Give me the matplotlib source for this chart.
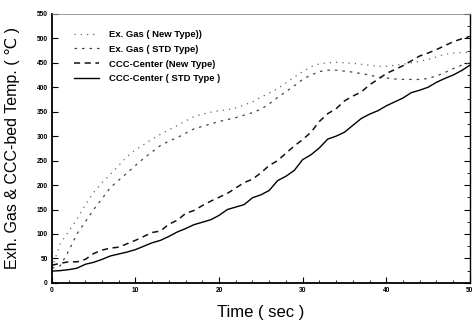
import matplotlib
matplotlib.use("Agg")
import matplotlib.pyplot as plt
from matplotlib.ticker import MultipleLocator

plt.rcParams['font.family'] = ['Liberation Sans', 'DejaVu Sans']

# Time axis (sec)
time = list(range(0, 51))

# Exhaust gas, new type (dotted)
ex_gas_new = [30, 80, 105, 130, 160, 185, 205, 222, 240, 258,
              272, 283, 294, 304, 313, 322, 331, 340, 345, 349,
              352, 354, 358, 364, 370, 380, 388, 397, 409, 421,
              432, 442, 448, 450, 451, 450, 449, 447, 445, 443,
              443, 445, 447, 450, 453, 457, 462, 467, 470, 471, 472]

# Exhaust gas, STD type (short dashes)
ex_gas_std = [30, 35, 65, 100, 125, 150, 172, 195, 210, 225,
              240, 255, 268, 281, 290, 297, 306, 315, 320, 325,
              330, 334, 338, 343, 348, 355, 366, 379, 391, 403,
              416, 425, 432, 435, 435, 433, 431, 428, 425, 421,
              419, 417, 416, 416, 416, 418, 423, 430, 438, 445, 450]

# CCC-bed center, new type (dashed)
ccc_new = [36, 40, 43, 43, 48, 60, 67, 71, 73, 80,
           87, 95, 103, 106, 120, 128, 142, 148, 158, 167,
           175, 183, 194, 205, 212, 225, 240, 250, 265, 280,
           293, 308, 330, 346, 356, 372, 382, 390, 405, 416,
           428, 436, 444, 454, 464, 470, 477, 485, 493, 499, 504]

# CCC-bed center, STD type (solid)
ccc_std = [24, 25, 27, 30, 38, 42, 48, 55, 59, 63,
           68, 75, 82, 87, 95, 104, 111, 119, 124, 129,
           138, 150, 155, 160, 174, 180, 189, 209, 218, 230,
           252, 262, 276, 294, 300, 308, 322, 336, 345, 352,
           362, 370, 378, 389, 394, 400, 410, 418, 425, 434, 445]

labels = ["Ex. Gas ( New Type))", "Ex. Gas ( STD Type)",
          "CCC-Center (New Type)", "CCC-Center ( STD Type )"]

fig = plt.figure(figsize=(4.76, 3.24), dpi=100)
ax = fig.add_axes([0.109, 0.127, 0.878, 0.830])

ax.plot(time, ex_gas_new, color='#666666', lw=0.9, linestyle=(0, (1, 4)), label=labels[0])
ax.plot(time, ex_gas_std, color='#444444', lw=0.9, linestyle=(0, (2, 4)), label=labels[1])
ax.plot(time, ccc_new, color='#111111', lw=1.1, linestyle=(0, (4, 3)), label=labels[2])
ax.plot(time, ccc_std, color='black', lw=1.0, linestyle='-', label=labels[3])

ax.set_xlim(0, 50)
ax.set_ylim(0, 550)
ax.xaxis.set_major_locator(MultipleLocator(10))
ax.xaxis.set_minor_locator(MultipleLocator(2))
ax.yaxis.set_major_locator(MultipleLocator(50))
ax.yaxis.set_minor_locator(MultipleLocator(25))

ax.tick_params(which='both', direction='in', top=False, right=True, labelsize=4.8, pad=3)
ax.tick_params(which='major', length=4, width=0.8)
ax.tick_params(which='minor', length=2, width=0.6)
ax.tick_params(axis='y', which='minor', left=False)
for lab in ax.get_xticklabels() + ax.get_yticklabels():
    lab.set_fontweight('bold')

ax.spines['left'].set_linewidth(1.3)
ax.spines['bottom'].set_linewidth(1.3)
ax.spines['right'].set_linewidth(1.0)
ax.spines['top'].set_linewidth(0.6)
ax.spines['top'].set_color('#888888')

ax.set_xlabel("Time ( sec )", fontsize=12, labelpad=8)
ax.set_ylabel("Exh. Gas & CCC-bed Temp. ( \u2103 )", fontsize=11.5, labelpad=12)

ax.legend(loc='upper left', bbox_to_anchor=(0.045, 0.955), frameon=False,
          prop={'weight': 'bold', 'size': 6.8}, handlelength=2.6,
          handletextpad=1.1, labelspacing=0.62, borderaxespad=0)

fig.savefig("out.png", dpi=100)
